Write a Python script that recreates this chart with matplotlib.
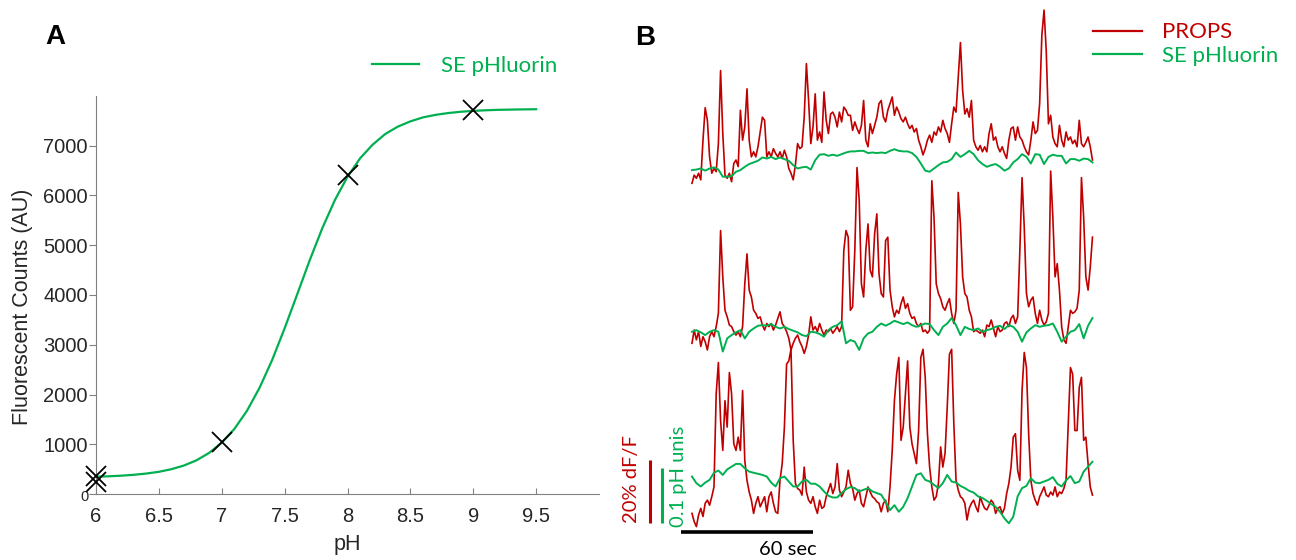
import numpy as np
import matplotlib
matplotlib.use('Agg')
import matplotlib.pyplot as plt
import matplotlib.transforms as mtransforms
from matplotlib.ticker import FormatStrFormatter

RED = '#C00000'
GREEN = '#00B050'
GRAY = '#808080'
TEXT = '#262626'

# --- panel A: pH titration of SE pHluorin ---
ph_fit = np.round(np.arange(6.0, 9.51, 0.1), 1)
counts_fit = [348, 356, 368, 386, 411, 446, 499, 573, 678, 827,
              1031, 1307, 1670, 2132, 2689, 3330, 4013, 4702, 5345, 5910,
              6377, 6747, 7022, 7236, 7384, 7490, 7570, 7621, 7657, 7683,
              7701, 7713, 7722, 7727, 7731, 7734]
ph_meas = [6, 6, 7, 8, 9]
counts_meas = [360, 240, 1050, 6420, 7710]
ph_ticks = [6, 6.5, 7, 7.5, 8, 8.5, 9, 9.5]
count_ticks = [0, 1000, 2000, 3000, 4000, 5000, 6000, 7000]

# --- panel B: PROPS (% dF/F) and SE pHluorin (pH units), three cells ---
t_props = np.arange(183)          # 1 s frames
t_phl = np.arange(0, 183, 2)      # 2 s frames

props_1 = [0, 2.6, 1.6, 3.2, 1.1, 13.7, 24.0, 20.0, 8.4, 3.2,
           4.7, 3.7, 12.6, 35.8, 15.8, 2.6, 1.6, 3.2, 0.5, 6.3,
           7.4, 5.3, 23.2, 13.7, 17.9, 30.0, 13.7, 8.4, 10.0, 8.4,
           11.6, 16.3, 21.0, 20.0, 8.4, 10.0, 8.4, 11.0, 9.5, 8.4,
           10.0, 7.9, 10.5, 8.4, 4.7, 3.2, 1.1, 5.8, 12.6, 11.0,
           11.6, 21.0, 38.0, 26.3, 12.6, 17.9, 28.4, 13.7, 16.3, 13.0,
           29.0, 20.0, 15.8, 22.0, 22.6, 21.0, 17.9, 22.6, 19.5, 24.2,
           23.2, 21.6, 21.6, 16.8, 19.5, 17.4, 15.8, 18.4, 26.3, 13.7,
           11.6, 18.9, 15.8, 18.4, 21.0, 25.3, 26.3, 21.0, 19.5, 23.2,
           25.3, 27.4, 21.6, 24.2, 22.6, 20.5, 19.5, 21.0, 18.9, 17.4,
           18.4, 16.3, 17.4, 13.7, 11.6, 9.0, 11.0, 13.7, 15.3, 13.0,
           16.3, 15.3, 17.9, 16.3, 20.0, 17.4, 15.8, 13.0, 18.9, 24.2,
           22.6, 33.7, 44.7, 29.5, 22.0, 23.7, 21.0, 26.3, 13.7, 11.6,
           10.5, 12.0, 10.0, 11.6, 10.0, 15.8, 18.9, 13.7, 14.7, 11.6,
           10.0, 11.6, 9.5, 7.9, 13.7, 17.4, 17.9, 13.7, 17.9, 14.7,
           13.7, 11.6, 10.0, 9.0, 13.7, 19.5, 15.8, 16.8, 25.3, 47.0,
           55.0, 42.0, 18.9, 21.6, 14.7, 12.6, 11.6, 18.4, 13.7, 11.6,
           16.3, 13.7, 14.7, 12.6, 13.7, 11.6, 20.0, 12.6, 11.6, 13.0,
           14.7, 11.6, 7.4]
props_2 = [2.1, 6.3, 3.2, 5.8, 1.1, 4.2, 2.6, 0.0, 4.2, 5.8,
           4.2, 7.4, 11.6, 37.9, 23.2, 12.6, 10.5, 7.9, 7.4, 5.8,
           4.7, 5.8, 4.2, 7.4, 21.0, 30.5, 19.0, 16.8, 12.6, 11.6,
           10.0, 10.5, 7.9, 6.3, 8.4, 7.4, 8.4, 6.3, 7.9, 10.0,
           12.1, 8.4, 7.4, 5.8, 3.7, 0.0, 2.1, 3.7, 4.7, 2.6,
           1.1, -1.1, 1.1, 4.7, 10.5, 6.3, 7.4, 5.8, 8.4, 6.3,
           4.7, 6.3, 5.8, 6.8, 5.3, 6.3, 7.4, 5.8, 7.4, 31.6,
           37.9, 35.8, 12.6, 13.7, 31.6, 57.9, 47.4, 21.0, 16.8, 31.6,
           40.0, 25.3, 23.2, 36.8, 43.2, 24.2, 17.9, 16.8, 34.7, 35.8,
           19.0, 13.7, 10.5, 12.6, 11.6, 14.7, 16.8, 13.2, 14.7, 11.6,
           10.0, 10.5, 8.4, 7.4, 8.4, 5.8, 6.3, 5.3, 6.3, 53.7,
           42.0, 21.0, 17.9, 16.3, 13.7, 12.6, 14.7, 16.3, 11.6, 8.4,
           12.6, 50.0, 40.0, 23.2, 17.9, 16.8, 12.6, 10.5, 5.8, 6.3,
           5.8, 5.3, 6.3, 4.2, 7.9, 7.4, 9.5, 6.8, 4.2, 7.4,
           5.8, 6.3, 8.4, 8.9, 7.4, 10.0, 11.0, 8.4, 10.5, 31.6,
           54.7, 38.9, 17.9, 13.7, 15.8, 16.8, 11.6, 8.4, 12.6, 9.5,
           7.9, 8.9, 11.6, 56.8, 42.1, 23.2, 27.4, 19.0, 7.4, 3.2,
           2.1, 7.4, 12.6, 11.6, 12.1, 13.2, 19.0, 54.7, 42.1, 23.2,
           19.0, 26.3, 35.8]
props_3 = [4.2, 1.6, 0.0, 3.7, 5.8, 3.2, 7.4, 8.4, 6.8, 9.5,
           12.6, 42.1, 52.1, 33.7, 24.2, 40.0, 31.6, 48.9, 42.1, 26.3,
           24.2, 28.4, 24.2, 43.2, 21.0, 14.7, 11.0, 8.4, 4.2, 7.4,
           9.5, 6.3, 7.9, 9.5, 4.7, 9.5, 11.0, 7.4, 4.7, 4.2,
           14.7, 20.0, 31.6, 51.6, 52.6, 56.3, 27.4, 13.7, 12.1, 11.6,
           10.0, 18.9, 11.0, 8.4, 7.4, 9.5, 6.3, 4.2, 8.4, 5.8,
           6.3, 9.5, 11.6, 13.7, 10.5, 12.6, 20.0, 11.6, 9.5, 11.0,
           12.6, 17.9, 13.7, 12.1, 8.4, 10.5, 11.6, 7.4, 6.3, 9.5,
           12.6, 11.0, 9.5, 8.9, 7.9, 7.4, 4.7, 7.4, 8.4, 4.7,
           12.6, 24.2, 40.0, 48.4, 53.7, 27.4, 31.6, 42.1, 52.6, 31.6,
           26.3, 23.2, 20.0, 30.5, 53.7, 56.3, 47.4, 29.5, 18.9, 12.6,
           8.4, 9.5, 13.7, 25.3, 18.9, 23.2, 37.9, 54.7, 56.3, 32.6,
           14.7, 11.6, 9.5, 8.9, 7.4, 2.1, 5.8, 7.4, 8.4, 6.3,
           4.7, 9.5, 7.4, 5.8, 5.3, 6.8, 8.4, 7.4, 4.2, 5.8,
           6.3, 4.2, 5.8, 10.5, 13.7, 18.9, 28.4, 29.5, 17.9, 14.7,
           43.2, 55.3, 50.5, 29.5, 14.7, 10.5, 8.4, 6.8, 9.5, 11.0,
           12.6, 10.0, 9.5, 11.0, 10.0, 12.6, 9.5, 11.0, 10.5, 12.1,
           14.7, 32.6, 50.5, 48.4, 30.5, 30.5, 44.2, 47.4, 27.4, 28.4,
           20.0, 12.6, 10.0]

phl_1 = [.024, .025, .027, .023, .027, .029, .025, .012, .012, .013,
         .021, .024, .030, .035, .038, .041, .047, .045, .048, .044,
         .047, .044, .041, .033, .027, .029, .030, .025, .042, .052,
         .053, .050, .052, .050, .053, .056, .058, .058, .059, .059,
         .055, .056, .055, .056, .055, .059, .062, .059, .058, .058,
         .055, .048, .036, .023, .021, .027, .033, .038, .039, .044,
         .056, .048, .053, .059, .053, .042, .035, .030, .033, .035,
         .030, .023, .027, .038, .044, .053, .048, .036, .053, .052,
         .035, .048, .052, .050, .050, .036, .044, .044, .041, .045,
         .044, .038]
phl_2 = [.033, .036, .032, .027, .033, .036, .033, -.003, .021, .027,
         .032, .036, .021, .033, .039, .044, .045, .044, .047, .042,
         .039, .042, .038, .035, .032, .027, .025, .033, .032, .029,
         .024, .036, .042, .045, .052, .012, .018, .015, .000, .021,
         .030, .033, .042, .048, .044, .048, .053, .050, .047, .050,
         .045, .042, .045, .048, .047, .036, .027, .042, .048, .058,
         .045, .027, .042, .038, .036, .039, .033, .036, .038, .042,
         .044, .038, .045, .042, .033, .015, .032, .039, .045, .042,
         .044, .045, .048, .033, .015, .024, .033, .036, .047, .021,
         .044, .058]
phl_3 = [.091, .079, .073, .080, .085, .098, .102, .094, .104, .109,
         .114, .114, .106, .100, .098, .096, .094, .091, .080, .073,
         .088, .091, .082, .073, .073, .082, .085, .078, .078, .073,
         .064, .056, .053, .053, .061, .068, .072, .070, .064, .067,
         .070, .064, .061, .058, .045, .030, .039, .027, .036, .052,
         .073, .094, .097, .085, .082, .076, .070, .079, .094, .082,
         .080, .074, .070, .065, .062, .055, .052, .047, .041, .036,
         .027, .015, .006, .018, .055, .070, .074, .088, .080, .079,
         .082, .085, .090, .078, .073, .084, .092, .079, .082, .100,
         .109, .118]

row_offsets = [109.0, 56.1, 0.0]   # % dF/F, top cell first
PH_SCALE = 174.6                   # % dF/F drawn per pH unit


def draw_titration(fig):
    ax = fig.add_axes([96 / 1296, 1 - 494 / 560, 503 / 1296, 398 / 560])
    ax.plot(ph_fit, counts_fit, color=GREEN, lw=1.6, label='SE pHluorin')
    ax.plot(ph_meas, counts_meas, 'x', color='black', ms=15, mew=1.3,
            clip_on=False, zorder=3)
    ax.set_xlim(6, 10)
    ax.set_ylim(0, 8000)
    for side in ['top', 'right']:
        ax.spines[side].set_visible(False)
    for side in ['left', 'bottom']:
        ax.spines[side].set_color(GRAY)
    ax.set_xticks(ph_ticks)
    ax.xaxis.set_major_formatter(FormatStrFormatter('%g'))
    ax.set_yticks(count_ticks, [''] + [str(c) for c in count_ticks[1:]])
    ax.tick_params(axis='x', direction='in', length=4, color=GRAY,
                   labelcolor=TEXT, labelsize=14.5, pad=9)
    ax.tick_params(axis='y', direction='out', length=5, color=GRAY,
                   labelcolor=TEXT, labelsize=14.5, pad=1)
    trans = mtransforms.blended_transform_factory(ax.transAxes, ax.transData)
    ax.text(-0.022, -60, '0', transform=trans, ha='center', va='center',
            fontsize=10.5, color=TEXT)
    ax.set_xlabel('pH', fontsize=15.5, color=TEXT, labelpad=6)
    ax.set_ylabel('Fluorescent Counts (AU)', fontsize=15.5, color=TEXT)
    ax.yaxis.set_label_coords(-0.125, 0.47)
    ax.legend(loc='center left', bbox_to_anchor=(372 / 1296, 1 - 66 / 560),
              bbox_transform=fig.transFigure, frameon=False, borderpad=0,
              borderaxespad=0, handlelength=2.1, handletextpad=1.0,
              labelcolor='linecolor', prop={'family': 'Lato', 'size': 16})
    return ax


def draw_traces(fig):
    ax = fig.add_axes([600 / 1296, 0, 696 / 1296, 1])
    ax.set_xlim(-41.8, 274.5)
    ax.set_ylim(-10.6, 167.2)
    ax.axis('off')
    rows = zip([props_1, props_2, props_3], [phl_1, phl_2, phl_3], row_offsets)
    for i, (props, phl, off) in enumerate(rows):
        ax.plot(t_props, np.array(props) + off, color=RED, lw=1.2,
                label='PROPS' if i == 0 else None)
        ax.plot(t_phl, np.array(phl) * PH_SCALE + off, color=GREEN, lw=1.4,
                label='SE pHluorin' if i == 0 else None)

    # scale bars: 20 % dF/F, 0.1 pH, 60 s
    ax.plot([-19.1, -19.1], [1.2, 21.2], color=RED, lw=2.2,
            solid_capstyle='butt')
    ax.plot([-13.6, -13.6], [1.2, 1.2 + 0.1 * PH_SCALE], color=GREEN, lw=2.2,
            solid_capstyle='butt')
    ax.plot([-5, 55], [-1.7, -1.7], color='black', lw=2.6,
            solid_capstyle='butt')
    ax.text(-27.3, 1.0, '20% dF/F', rotation=90, ha='center', va='bottom',
            color=RED, family='Lato', fontsize=14.5)
    ax.text(-6.0, 0.0, '0.1 pH unis', rotation=90, ha='center', va='bottom',
            color=GREEN, family='Lato', fontsize=14.5)
    ax.text(43.6, -7.4, '60 sec', ha='center', va='center', color='black',
            family='Lato', fontsize=14.5)

    leg = ax.legend(loc='center left',
                    bbox_to_anchor=(1093 / 1296, 1 - 44 / 560),
                    bbox_transform=fig.transFigure, frameon=False,
                    borderpad=0, borderaxespad=0, handlelength=2.2,
                    handletextpad=0.9, labelspacing=0.15,
                    labelcolor='linecolor',
                    prop={'family': 'Lato', 'size': 16})
    for line in leg.get_lines():
        line.set_linewidth(1.6)
    return ax


def main():
    plt.rcParams['font.family'] = ['Liberation Sans', 'DejaVu Sans']
    fig = plt.figure(figsize=(12.96, 5.6), dpi=100)
    draw_titration(fig)
    draw_traces(fig)
    fig.text(55 / 1296, 1 - 37 / 560, 'A', ha='center', va='center',
             fontsize=20, fontweight='bold')
    fig.text(645 / 1296, 1 - 38 / 560, 'B', ha='center', va='center',
             fontsize=20, fontweight='bold')
    fig.savefig('out.png', dpi=100)


if __name__ == '__main__':
    main()
